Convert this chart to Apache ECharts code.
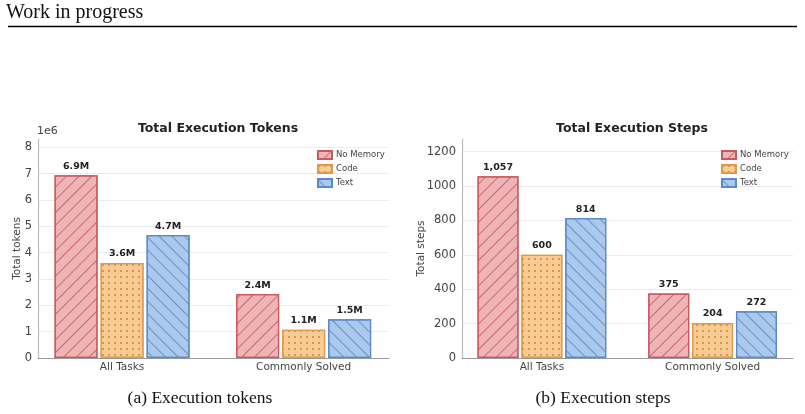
<!DOCTYPE html>
<html>
<head>
<meta charset="utf-8">
<script src="https://cdn.jsdelivr.net/npm/echarts@6/dist/echarts.min.js"></script>
<style>
  html, body { margin: 0; padding: 0; background: #fff; }
  #main { width: 805px; height: 414px; }
</style>
</head>
<body>
<div id="main"></div>
<script>
// 数据
var categories = ['All Tasks', 'Commonly Solved'];
var seriesNames = ['No Memory', 'Code', 'Text'];
// tokens, in millions (axis shows 1e6)
var tokensNoMemory = [6.94, 2.43];
var tokensCode = [3.61, 1.07];
var tokensText = [4.67, 1.47];
// steps
var stepsNoMemory = [1057, 375];
var stepsCode = [600, 204];
var stepsText = [814, 272];
var tokenTicks = [0, 1, 2, 3, 4, 5, 6, 7, 8];
var stepTicks = [0, 200, 400, 600, 800, 1000, 1200];

var chart = echarts.init(document.getElementById('main'));

var fills = ['#efb5b6', '#f7cb92', '#aac9ec'];
var edges = ['#c85a5e', '#e0994a', '#5a8ac8'];
var decals = [
  { symbol: 'rect', symbolSize: 1, dashArrayX: [1, 0], dashArrayY: [1, 8], rotation: -Math.PI / 4, color: 'rgba(200,90,94,0.85)' },
  { symbol: 'circle', symbolSize: 1, dashArrayX: [2, 4], dashArrayY: [2, 4], color: '#cf8530' },
  { symbol: 'rect', symbolSize: 1, dashArrayX: [1, 0], dashArrayY: [1, 8], rotation: Math.PI / 4, color: 'rgba(90,138,200,0.85)' }
];

function pairs(arr) {
  return arr.map(function (v, i) { return [i, v]; });
}

function makeSeries(idx, arr, axisIdx, barW, fmt) {
  return {
    name: seriesNames[idx],
    type: 'bar',
    xAxisIndex: axisIdx,
    yAxisIndex: axisIdx,
    barWidth: barW,
    barGap: '7%',
    data: pairs(arr),
    itemStyle: {
      color: fills[idx],
      borderColor: edges[idx],
      borderWidth: 1.2,
      decal: decals[idx]
    },
    label: {
      show: true,
      position: 'top',
      distance: 4,
      fontFamily: 'DejaVu Sans',
      fontWeight: 'bold',
      fontSize: 9.5,
      color: '#222',
      formatter: function (p) { return fmt(p.value[1]); }
    }
  };
}

function fmtM(v) { return v.toFixed(1) + 'M'; }
function fmtSteps(v) { return v.toLocaleString('en-US'); }

function xAxisCfg(gridIdx, min, max) {
  return {
    type: 'value',
    gridIndex: gridIdx,
    min: min,
    max: max,
    splitLine: { show: false },
    axisTick: { show: false },
    axisLine: { show: true, onZero: false, lineStyle: { color: '#999', width: 1.2 } },
    axisLabel: {
      customValues: [0, 1],
      formatter: function (v) { return categories[Math.round(v)]; },
      fontFamily: 'DejaVu Sans',
      fontSize: 10.5,
      color: '#444',
      margin: 4
    }
  };
}

function yAxisCfg(gridIdx, max, interval, name, ticks, gap) {
  return {
    type: 'value',
    gridIndex: gridIdx,
    min: 0,
    max: max,
    interval: interval,
    name: name,
    nameLocation: 'middle',
    nameGap: gap,
    nameMoveOverlap: false,
    nameTextStyle: { fontFamily: 'DejaVu Sans', fontSize: 10.5, color: '#444' },
    axisLine: { show: true, onZero: false, lineStyle: { color: '#bbb', width: 1.2 } },
    axisTick: { show: false },
    splitLine: { show: true, showMaxLine: false, lineStyle: { color: '#ebebeb', width: 1 } },
    axisLabel: {
      customValues: ticks,
      formatter: function (v) { return String(v); },
      fontFamily: 'DejaVu Sans',
      fontSize: 11.5,
      color: '#444',
      margin: 6
    }
  };
}

var legendBase = {
  orient: 'vertical',
  icon: 'rect',
  itemWidth: 14,
  itemHeight: 8,
  itemGap: 4,
  data: seriesNames,
  textStyle: { fontFamily: 'DejaVu Sans', fontSize: 8.5, color: '#444', padding: [0, 0, 0, -1] },
  selectedMode: false
};

var option = {
  animation: false,
  backgroundColor: '#fff',
  title: [
    {
      text: 'Total Execution Tokens', left: 213, top: 117, textAlign: 'center',
      textStyle: { fontFamily: 'DejaVu Sans', fontWeight: 'bold', fontSize: 12.5, color: '#222' }
    },
    {
      text: 'Total Execution Steps', left: 627, top: 117, textAlign: 'center',
      textStyle: { fontFamily: 'DejaVu Sans', fontWeight: 'bold', fontSize: 12.5, color: '#222' }
    }
  ],
  legend: [
    Object.assign({ left: 312, top: 145 }, legendBase),
    Object.assign({ left: 716, top: 145 }, legendBase)
  ],
  grid: [
    { left: 38, right: 805 - 389, top: 139, bottom: 414 - 358 },
    { left: 462, right: 805 - 793, top: 139, bottom: 414 - 358 }
  ],
  xAxis: [xAxisCfg(0, -0.463, 1.47), xAxisCfg(1, -0.468, 1.471)],
  yAxis: [
    yAxisCfg(0, 8.32, 1, 'Total tokens', tokenTicks, 15),
    yAxisCfg(1, 1274, 200, 'Total steps', stepTicks, 35)
  ],
  series: [
    makeSeries(0, tokensNoMemory, 0, 43, fmtM),
    makeSeries(1, tokensCode, 0, 43, fmtM),
    makeSeries(2, tokensText, 0, 43, fmtM),
    makeSeries(0, stepsNoMemory, 1, 41, fmtSteps),
    makeSeries(1, stepsCode, 1, 41, fmtSteps),
    makeSeries(2, stepsText, 1, 41, fmtSteps)
  ],
  graphic: [
    { type: 'text', left: 6, top: 3, style: { text: 'Work in progress', font: '20px "Liberation Serif"', fill: '#111' } },
    { type: 'line', shape: { x1: 8, y1: 26.5, x2: 797, y2: 26.5 }, style: { stroke: '#000', lineWidth: 1.5 } },
    { type: 'text', left: 37, top: 126, style: { text: '1e6', font: '11px "DejaVu Sans"', fill: '#444' } },
    { type: 'text', x: 200, y: 398, style: { text: '(a) Execution tokens', font: '17.5px "Liberation Serif"', fill: '#111', textAlign: 'center', textVerticalAlign: 'middle' } },
    { type: 'text', x: 603, y: 398, style: { text: '(b) Execution steps', font: '17.5px "Liberation Serif"', fill: '#111', textAlign: 'center', textVerticalAlign: 'middle' } }
  ]
};

chart.setOption(option);
</script>
</body>
</html>
